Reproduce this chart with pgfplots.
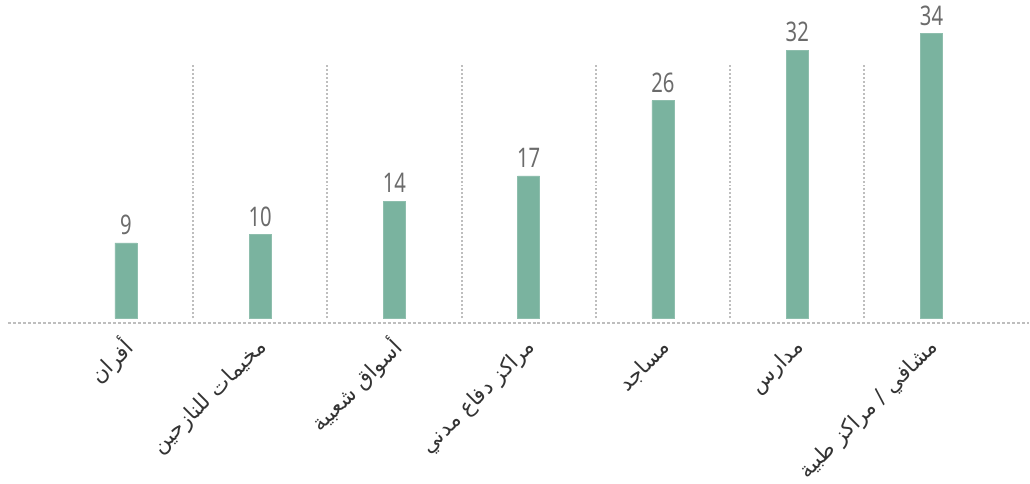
\documentclass[border=0pt]{standalone}
\usepackage{pgfplots}
\pgfplotsset{compat=1.18}
\usepackage{fontspec}
\TeXXeTstate=1
\newfontfamily\arabicfont[Script=Arabic]{DejaVu Sans}
\newfontfamily\numfont[FakeStretch=0.75]{Noto Sans}
\definecolor{barcol}{HTML}{7AB39F}
\definecolor{numcol}{HTML}{6B6B6B}
\definecolor{gridcol}{HTML}{BEBEBE}
\begin{document}
\begin{tikzpicture}
\begin{axis}[
  scale only axis,
  width=1022pt, height=323.6pt,
  xmin=-0.878, xmax=6.726,
  ymin=-0.6, ymax=38,
  axis line style={draw=none},
  major tick length=0pt,
  ytick=\empty,
  xtick={0,1,2,3,4,5,6},
  xticklabels={
    {\beginR أفران\endR},
    {\beginR مخيمات للنازحين\endR},
    {\beginR أسواق شعبية\endR},
    {\beginR مراكز دفاع مدني\endR},
    {\beginR مساجد\endR},
    {\beginR مدارس\endR},
    {\beginR مشافي / مراكز طبية\endR}},
  xticklabel style={font=\arabicfont\fontsize{21.5}{25}\selectfont, text=black!80, rotate=45, anchor=east, inner sep=0pt, yshift=-17pt, xshift=-12pt},
  ybar, bar width=22pt,
  clip=false,
  /pgf/number format/assume math mode=true,
  nodes near coords,
  every node near coord/.append style={font=\numfont\fontsize{27}{30}\selectfont, text=numcol, anchor=south, inner sep=0pt, yshift=8pt},
]
\pgfplotsinvokeforeach{0.5,1.5,2.5,3.5,4.5,5.5}{
  \draw[gridcol, line width=2pt, dash pattern=on 2pt off 2pt] (axis cs:#1,0) -- (axis cs:#1,30.2);
}
\draw[gridcol, line width=2pt, dash pattern=on 3pt off 2pt] (axis cs:-0.878,-0.6) -- (axis cs:6.726,-0.6);
\addplot[fill=barcol, draw=barcol!85!white, line width=0.6pt] coordinates {(0,9) (1,10) (2,14) (3,17) (4,26) (5,32) (6,34)};
\end{axis}
\path (current axis.south west) ++(-8pt,-159pt) coordinate (bl);
\path (bl) rectangle (current axis.north east);
\end{tikzpicture}
\end{document}
